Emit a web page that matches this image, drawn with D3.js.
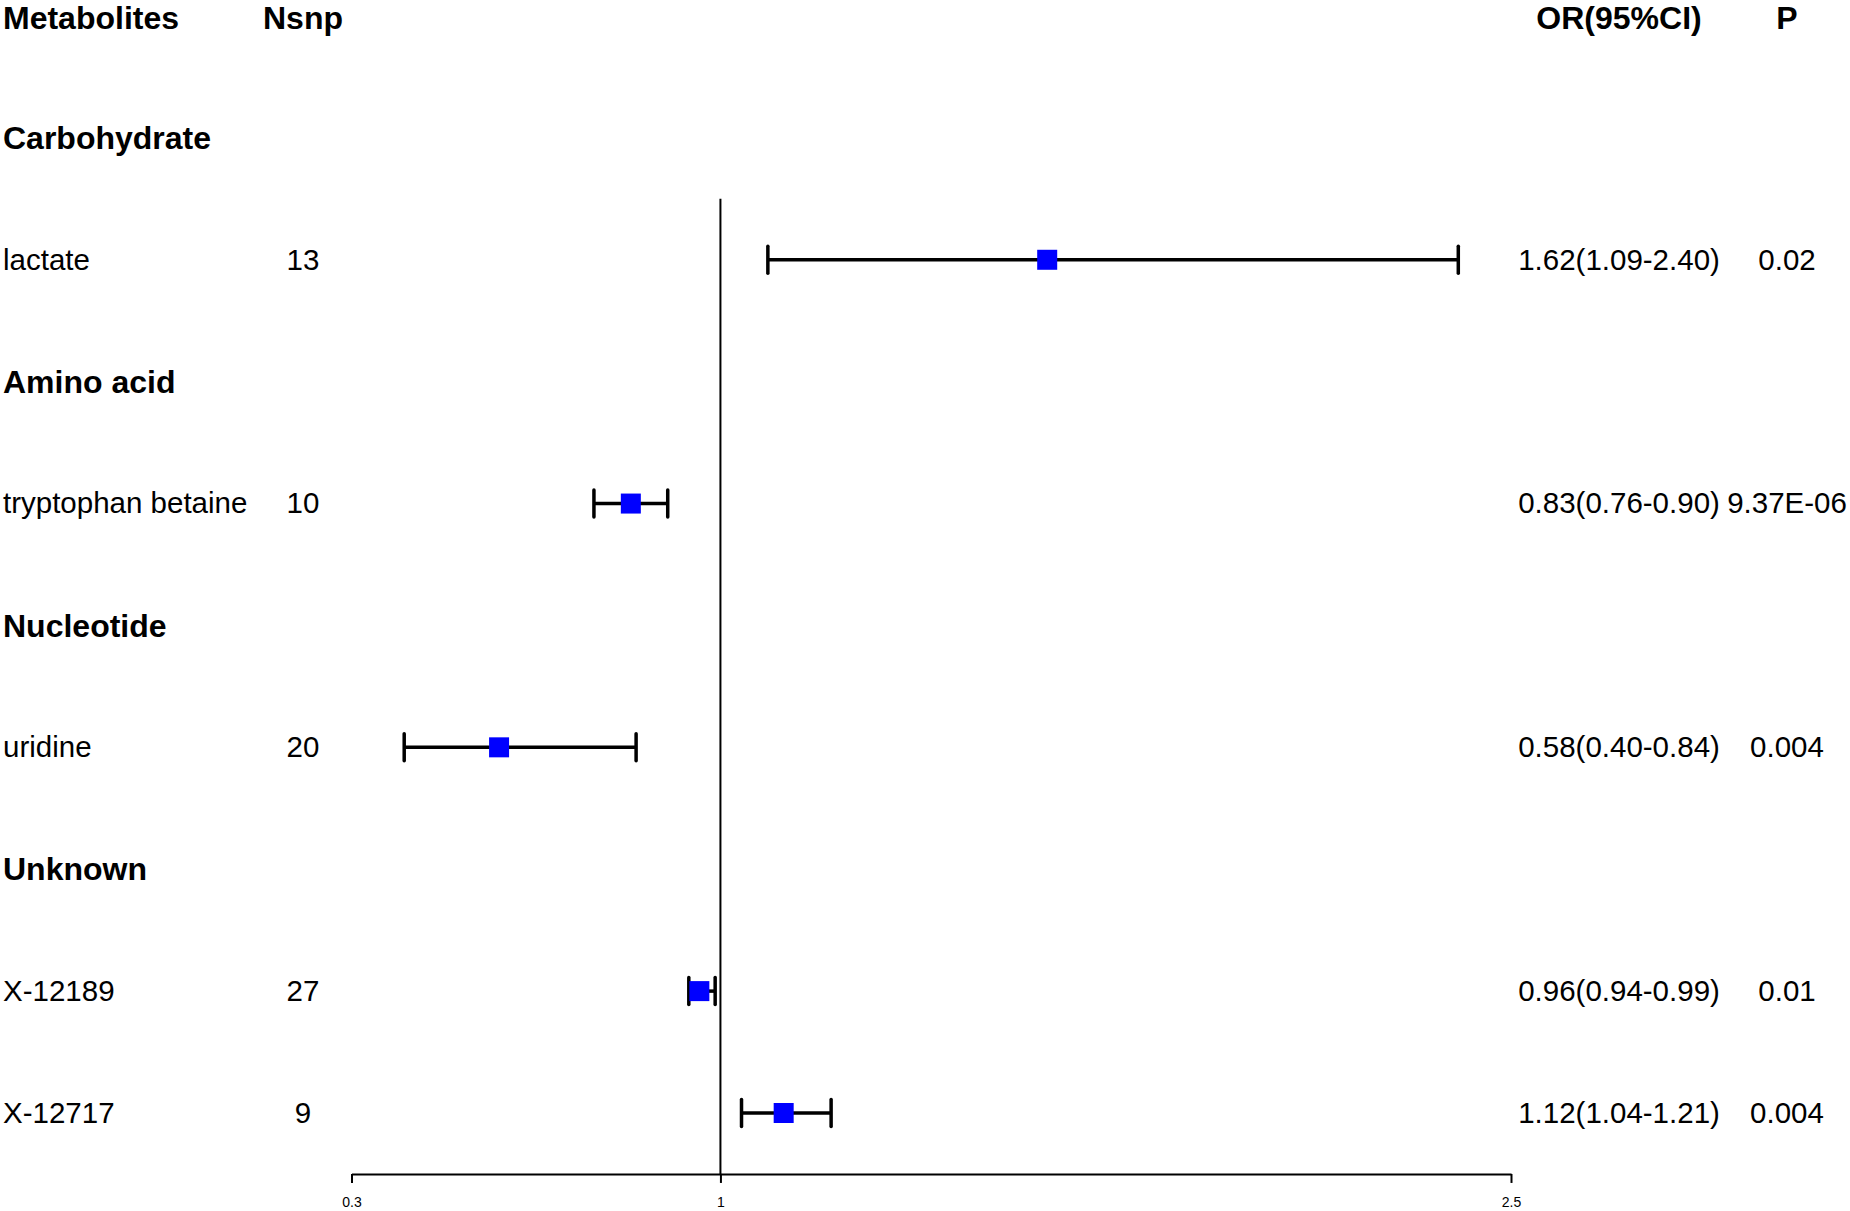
<!DOCTYPE html>
<html>
<head>
<meta charset="utf-8">
<script src="https://cdn.jsdelivr.net/npm/d3@7"></script>
<style>
  body { margin: 0; background: #fff; }
  svg { display: block; font-family: "Liberation Sans", Arial, sans-serif; }
</style>
</head>
<body>
<svg id="chart"></svg>
<script>
var width = 1850;
var height = 1211;

// table rows (header row is drawn separately)
var labels = ['Carbohydrate', 'lactate', 'Amino acid', 'tryptophan betaine', 'Nucleotide', 'uridine', 'Unknown', 'X-12189', 'X-12717'];
var isGroup = [true, false, true, false, true, false, true, false, false];
var nsnp = ['', '13', '', '10', '', '20', '', '27', '9'];
var orValue = [null, 1.62, null, 0.83, null, 0.58, null, 0.96, 1.12];
var lower = [null, 1.09, null, 0.76, null, 0.40, null, 0.94, 1.04];
var upper = [null, 2.40, null, 0.90, null, 0.84, null, 0.99, 1.21];
var orText = ['', '1.62(1.09-2.40)', '', '0.83(0.76-0.90)', '', '0.58(0.40-0.84)', '', '0.96(0.94-0.99)', '1.12(1.04-1.21)'];
var pText = ['', '0.02', '', '9.37E-06', '', '0.004', '', '0.01', '0.004'];
var headers = ['Metabolites', 'Nsnp', 'OR(95%CI)', 'P'];
var tickValues = [0.3, 1, 2.5];

var colX = [3, 303, 1619, 1787];
var boxSize = 20;
var capHeight = 27;

var svg = d3.select('#chart')
  .attr('width', width)
  .attr('height', height);

// row 0 is the header, rows 1..9 the table
var yScale = d3.scaleLinear()
  .domain([0, 9])
  .range([16, 1113]);

var xScale = d3.scaleLinear()
  .domain([0.3, 2.5])
  .range([351.5, 1511]);

var rows = labels.map(function(d, i){
  return {
    label: d, group: isGroup[i], nsnp: nsnp[i],
    or: orValue[i], lo: lower[i], hi: upper[i],
    orText: orText[i], p: pText[i], row: i + 1
  };
});

// header texts
svg.append('g').selectAll('text')
  .data(headers)
  .enter().append('text')
    .attr('x', function(d, i){ return colX[i]; })
    .attr('y', yScale(0))
    .attr('dy', 13)
    .style('text-anchor', function(d, i){ return i === 0 ? 'start' : 'middle'; })
    .style('font-weight', 'bold')
    .style('font-size', '32px')
    .text(function(d){ return d; });

// table columns
var rowG = svg.append('g').selectAll('g')
  .data(rows)
  .enter().append('g')
    .attr('transform', function(d){ return `translate(0, ${yScale(d.row)})`; });

rowG.append('text')
  .attr('x', colX[0])
  .attr('dy', function(d){ return d.group ? '0.35em' : '0.33em'; })
  .style('font-weight', function(d){ return d.group ? 'bold' : 'normal'; })
  .style('font-size', function(d){ return d.group ? '32px' : '29.5px'; })
  .text(function(d){ return d.label; });

[['nsnp', 1], ['orText', 2], ['p', 3]].forEach(function(c){
  rowG.append('text')
    .attr('x', colX[c[1]])
    .attr('dy', '0.33em')
    .style('text-anchor', 'middle')
    .style('font-size', '29.5px')
    .text(function(d){ return d[c[0]]; });
});

// x axis
var xAxis = svg.append('g')
  .attr('transform', `translate(0, ${yScale(9.5)})`)
  .call(d3.axisBottom(xScale)
    .tickValues(tickValues)
    .tickSize(9)
    .tickSizeOuter(0)
    .tickFormat(d3.format('')));

xAxis.select('.domain').attr('stroke', '#000').attr('stroke-width', 2);
xAxis.selectAll('.tick line').attr('stroke', '#000').attr('stroke-width', 2);
xAxis.selectAll('.tick text')
  .attr('y', 23)
  .attr('fill', '#000')
  .style('font-size', '14px')
  .style('font-family', '"Liberation Sans", Arial, sans-serif');

// reference line at OR = 1
svg.append('line')
  .attr('x1', xScale(1)).attr('x2', xScale(1))
  .attr('y1', yScale(1.5)).attr('y2', yScale(9.5))
  .attr('stroke', '#000')
  .attr('stroke-width', 2);

// confidence intervals
var est = svg.append('g').selectAll('g')
  .data(rows.filter(function(d){ return d.or !== null; }))
  .enter().append('g')
    .attr('transform', function(d){ return `translate(0, ${yScale(d.row)})`; });

est.append('line')
  .attr('x1', function(d){ return xScale(d.lo); })
  .attr('x2', function(d){ return xScale(d.hi); })
  .attr('stroke', '#000')
  .attr('stroke-width', 3.5);

['lo', 'hi'].forEach(function(k){
  est.append('line')
    .attr('x1', function(d){ return xScale(d[k]); })
    .attr('x2', function(d){ return xScale(d[k]); })
    .attr('y1', -capHeight / 2)
    .attr('y2', capHeight / 2)
    .attr('stroke', '#000')
    .attr('stroke-width', 3.5)
    .attr('stroke-linecap', 'round');
});

est.append('rect')
  .attr('x', function(d){ return xScale(d.or) - boxSize / 2; })
  .attr('y', -boxSize / 2)
  .attr('width', boxSize)
  .attr('height', boxSize)
  .attr('fill', '#0000ff');
</script>
</body>
</html>
